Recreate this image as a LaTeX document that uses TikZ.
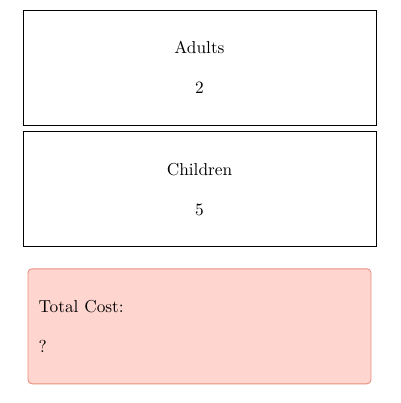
\documentclass[tikz,border=0pt]{standalone}
\usepackage{tikz}
\usetikzlibrary{positioning}

\definecolor{costfill}{HTML}{FFD5CF}
\definecolor{costline}{HTML}{E8907E}

\tikzset{
  countbox/.style={draw=black, line width=0.9pt, minimum width=353pt, minimum height=115pt,
    inner sep=0pt},
  costbox/.style={draw=costline, fill=costfill, line width=0.9pt, rounded corners=4pt,
    minimum width=343pt, minimum height=115pt, inner sep=0pt},
  % text set at 10pt design size, then blown up
  lines/.style={scale=1.73, transform shape, inner sep=0pt,
    font=\fontsize{10}{22.8}\selectfont}
}

\begin{document}
\begin{tikzpicture}[x=1pt,y=-1pt]
\useasboundingbox (0,0) rectangle (400,403);
\node[countbox] (adults) at (199.5,67.5) {};
\node[countbox, below=6pt of adults] (children) {};
\node[costbox, below=21pt of children] (cost) {};
\node[lines, align=center] (adultsText) at (adults.center) {Adults\\2};
\node[lines, align=center] (childrenText) at (children.center) {Children\\5};
\node[lines, align=left, anchor=west, xshift=6.2pt] (costText) at (cost.west) {Total Cost:\\?};
\end{tikzpicture}
\end{document}
